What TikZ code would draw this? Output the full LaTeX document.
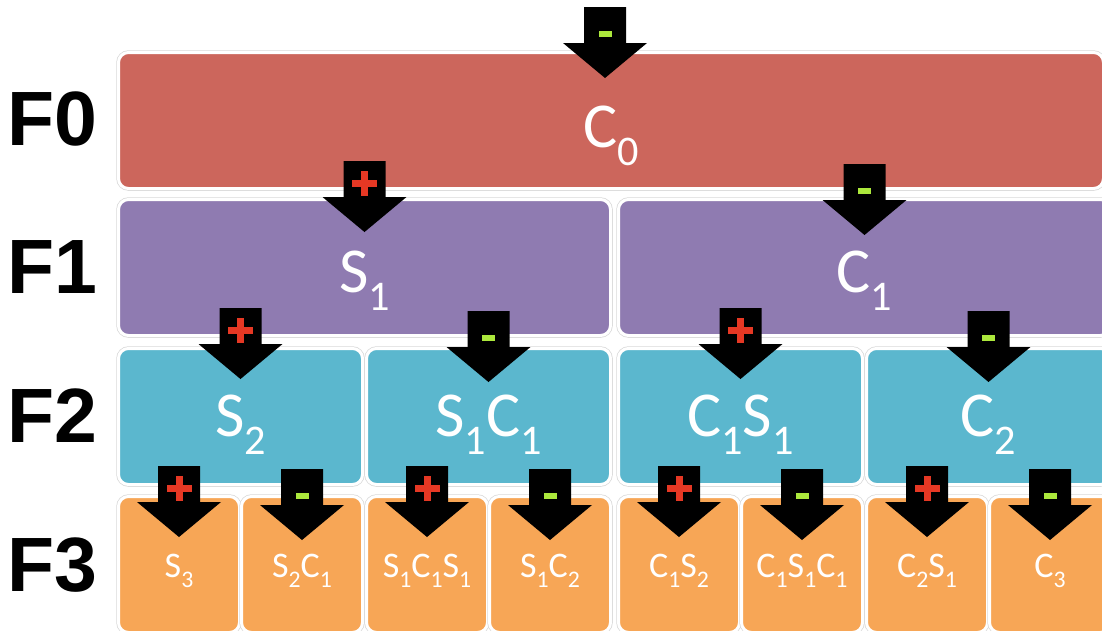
\documentclass[tikz,border=0pt]{standalone}
\usepackage{fontspec}
\setmainfont{Carlito}
\newfontfamily\lblfont{Liberation Sans}
\usetikzlibrary{positioning}
\definecolor{BoxRed}{RGB}{204,102,92}
\definecolor{BoxPurple}{RGB}{143,123,177}
\definecolor{BoxCyan}{RGB}{91,183,206}
\definecolor{BoxOrange}{RGB}{247,166,86}
\definecolor{SignRed}{RGB}{230,56,36}
\definecolor{SignLime}{RGB}{172,232,60}
\newcommand{\lo}[1]{\raisebox{-0.28em}{\scalebox{0.66}{#1}}}
\tikzset{
    pics/plusarrow/.style={code={
        \fill[black] (-21,0) -- (21,0) -- (21,36) -- (42,36) -- (0,71) -- (-42,36) -- (-21,36) -- cycle;
        \fill[SignRed] (-3.5,10) rectangle (3.5,35);
        \fill[SignRed] (-12.5,19) rectangle (12.5,26);
    }},
    pics/minusarrow/.style={code={
        \fill[black] (-21,3) -- (21,3) -- (21,39) -- (42,39) -- (0,74) -- (-42,39) -- (-21,39) -- cycle;
        \fill[SignLime] (-6.5,26.5) rectangle (6.5,33);
    }}
}
\begin{document}
\begin{tikzpicture}[
    x=1pt, y=-1pt,
    font=\fontsize{64}{64}\selectfont,
    box/.style={rectangle, rounded corners=10pt, draw=white, line width=3pt, preaction={draw=black!15, line width=4.5pt}, text=white, inner sep=0pt, outer sep=0pt, minimum height=136pt},
    row0/.style={box, fill=BoxRed, minimum width=985pt, text height=54pt, text depth=0pt},
    row1/.style={box, fill=BoxPurple, minimum width=492pt, text height=50pt, text depth=0pt},
    row2/.style={box, fill=BoxCyan, minimum width=244pt, text height=40pt, text depth=0pt},
    row3/.style={box, fill=BoxOrange, minimum width=121pt, text height=26pt, text depth=0pt, font=\fontsize{36}{36}\selectfont},
    flabel/.style={anchor=west, inner sep=0pt, font=\lblfont\bfseries\fontsize{77}{77}\selectfont}
]
\useasboundingbox (0,0) rectangle (1102,630);
\clip (0,0) rectangle (1102,630);

\node[flabel] (f0) at (7.5,119) {F0};
\node[flabel] (f1) at (7.5,267) {F1};
\node[flabel] (f2) at (7.5,416) {F2};
\node[flabel] (f3) at (7.5,565) {F3};

\node[row0, anchor=north west] (c0) at (118.5,52.5) {C\lo{0}};

\node[row1, below right=11pt and 0pt of c0.south west] (s1) {S\lo{1}};
\node[row1, right=8pt of s1] (c1) {C\lo{1}};

\node[row2, below right=13pt and 0pt of s1.south west] (s2) {S\lo{2}};
\node[row2, right=4pt of s2] (s1c1) {S\lo{1}C\lo{1}};
\node[row2, right=8pt of s1c1] (c1s1) {C\lo{1}S\lo{1}};
\node[row2, right=4pt of c1s1] (c2) {C\lo{2}};

\node[row3, below right=12pt and 0pt of s2.south west] (s3) {S\lo{3}};
\node[row3, right=2pt of s3] (s2c1) {S\lo{2}C\lo{1}};
\node[row3, right=4pt of s2c1] (s1c1s1) {S\lo{1}C\lo{1}S\lo{1}};
\node[row3, right=2pt of s1c1s1] (s1c2) {S\lo{1}C\lo{2}};
\node[row3, right=8pt of s1c2] (c1s2) {C\lo{1}S\lo{2}};
\node[row3, right=2pt of c1s2] (c1s1c1) {C\lo{1}S\lo{1}C\lo{1}};
\node[row3, right=4pt of c1s1c1] (c2s1) {C\lo{2}S\lo{1}};
\node[row3, right=2pt of c2s1] (c3) {C\lo{3}};

\coordinate (lv0) at (605,4);
\coordinate (lv1) at (0,161);
\coordinate (lv2) at (0,308);
\coordinate (lv3) at (0,466);

\pic at (lv0) {minusarrow};

\pic at (s1 |- lv1) {plusarrow};
\pic at (c1 |- lv1) {minusarrow};

\pic at (s2 |- lv2) {plusarrow};
\pic at (s1c1 |- lv2) {minusarrow};
\pic at (c1s1 |- lv2) {plusarrow};
\pic at (c2 |- lv2) {minusarrow};

\pic at (s3 |- lv3) {plusarrow};
\pic at (s2c1 |- lv3) {minusarrow};
\pic at (s1c1s1 |- lv3) {plusarrow};
\pic at (s1c2 |- lv3) {minusarrow};
\pic at (c1s2 |- lv3) {plusarrow};
\pic at (c1s1c1 |- lv3) {minusarrow};
\pic at (c2s1 |- lv3) {plusarrow};
\pic at (c3 |- lv3) {minusarrow};

\end{tikzpicture}
\end{document}
